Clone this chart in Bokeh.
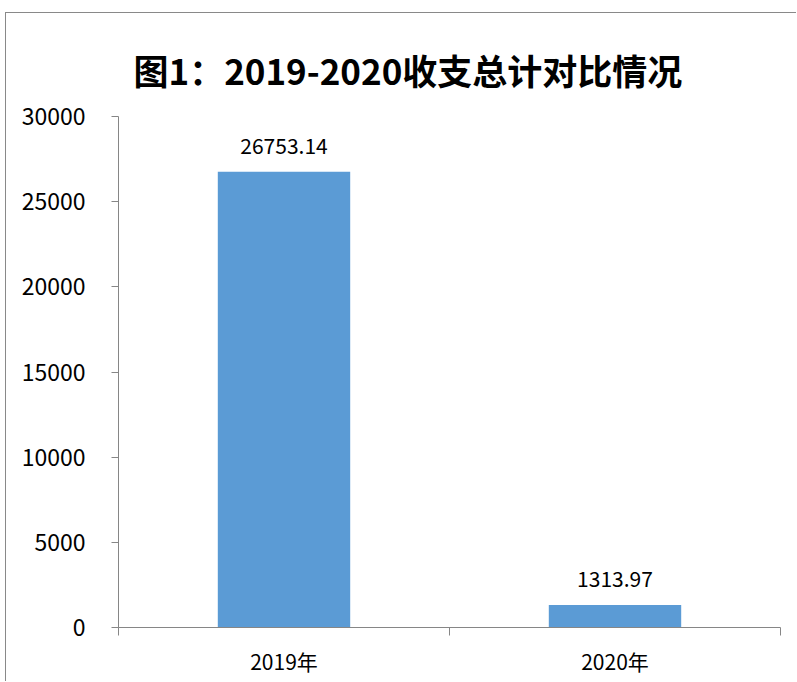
from bokeh.plotting import figure
from bokeh.models import ColumnDataSource, FixedTicker, Range1d, Title
from bokeh.core.properties import value
from bokeh.embed import file_html
from bokeh.resources import INLINE

categories = ["2019年", "2020年"]
totals = [26753.14, 1313.97]
y_ticks = [0, 5000, 10000, 15000, 20000, 25000, 30000]
title_text = "图1：2019-2020收支总计对比情况"

FONT = "Noto Sans CJK SC"
AXIS_COLOR = "#868686"

xs = [i + 0.5 for i in range(len(categories))]
src = ColumnDataSource(dict(x=xs, top=totals, label=[f"{v:.2f}" for v in totals]))

p = figure(width=791, height=669, output_backend="svg", toolbar_location=None,
           x_range=Range1d(0, len(categories)), y_range=Range1d(0, 30000),
           min_border_left=112, min_border_right=17, min_border_top=103, min_border_bottom=55)
p.styles = {"margin-left": "5px", "margin-top": "12px",
            "border-left": "1px solid #898989", "border-top": "1px solid #898989"}
p.outline_line_color = None
p.grid.visible = False
p.background_fill_color = "white"
p.border_fill_color = "white"

p.vbar(x="x", top="top", width=0.4, source=src, color="#5B9BD5", line_color=None)
p.text(x="x", y="top", text="label", source=src, text_align="center", text_baseline="bottom",
       y_offset=-18, text_font=value(FONT), text_font_size="21px", text_color="black")

t = Title(text=title_text, align="left", text_font=FONT, text_font_size="35px",
          text_font_style="bold", text_color="black", standoff=43, offset=15)
p.add_layout(t, "above")

xa = p.xaxis[0]
xa.ticker = FixedTicker(ticks=xs, minor_ticks=list(range(len(categories) + 1)))
xa.major_label_overrides = {x: c for x, c in zip(xs, categories)}
xa.major_tick_out = 0
xa.major_tick_in = 0
xa.minor_tick_out = 8
xa.minor_tick_in = 0
xa.minor_tick_line_color = AXIS_COLOR
xa.axis_line_color = AXIS_COLOR
xa.major_label_text_font = FONT
xa.major_label_text_font_size = "21px"
xa.major_label_text_color = "black"
xa.major_label_standoff = 10

ya = p.yaxis[0]
ya.ticker = FixedTicker(ticks=y_ticks)
ya.major_tick_out = 7
ya.major_tick_in = 0
ya.minor_tick_out = 0
ya.minor_tick_in = 0
ya.major_tick_line_color = AXIS_COLOR
ya.axis_line_color = AXIS_COLOR
ya.major_label_text_font = FONT
ya.major_label_text_font_size = "23px"
ya.major_label_text_color = "black"
ya.major_label_standoff = 26

open("out.html", "w").write(file_html(p, INLINE))
